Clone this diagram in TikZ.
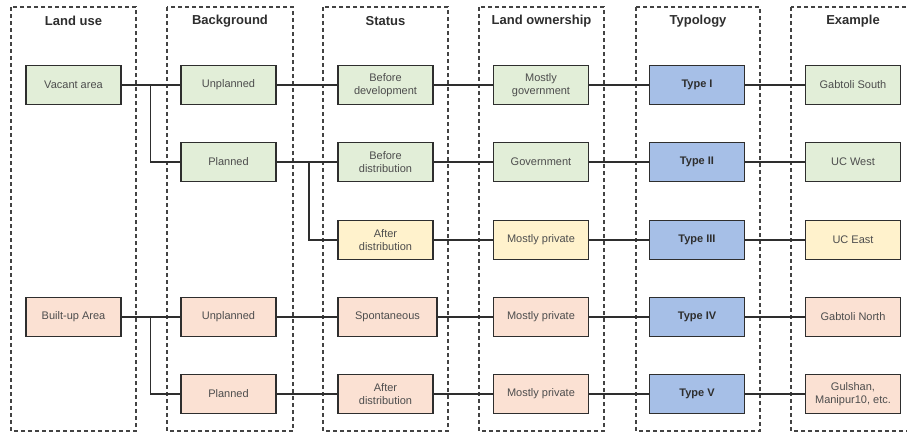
\documentclass[tikz,border=0pt]{standalone}
\usepackage{fontspec}
\setmainfont{Liberation Sans}
\usetikzlibrary{positioning}

\definecolor{grn}{HTML}{E2EED8}
\definecolor{pch}{HTML}{FBE1D3}
\definecolor{ylw}{HTML}{FFF2CC}
\definecolor{blu}{HTML}{A6BFE7}
\definecolor{ink}{HTML}{2E2E2E}

\begin{document}
\begin{tikzpicture}[x=1pt,y=-1pt,
	column/.style={draw=ink!90, dash pattern=on 4pt off 3pt, line width=1.3pt},
	title/.style={font=\fontsize{13}{15}\selectfont\bfseries, text=ink},
	box/.style={draw=ink, line width=1.6pt, minimum width=95pt, minimum height=39pt,
		align=center, font=\fontsize{11}{13}\selectfont, text=ink!85},
	green/.style={box, fill=grn},
	peach/.style={box, fill=pch},
	yellow/.style={box, fill=ylw},
	type/.style={box, fill=blu, text=ink, font=\fontsize{11}{13}\selectfont\bfseries},
	link/.style={draw=ink, line width=1.5pt}]
		\useasboundingbox (0,0) rectangle (907,434);

		% columns
		\draw[column] (11,7) rectangle (136,431);
		\draw[column] (167,7) rectangle (293,431);
		\draw[column] (323,7) rectangle (448,431);
		\draw[column] (479,7) rectangle (604,431);
		\draw[column] (636,7) rectangle (760,431);
		\draw[column] (791,7) rectangle (918,431);

		\draw (73.5,21) node [title] (t1) {Land use};
		\draw (230,21) node [title] (t2) {Background};
		\draw (385.5,21) node [title] (t3) {Status};
		\draw (541.5,21) node [title] (t4) {Land ownership};
		\draw (698,21) node [title] (t5) {Typology};
		\draw (853,21) node [title] (t6) {Example};

		% row 1
		\draw (73.5,85) node [green] (vac) {Vacant area};
		\draw (228.5,85) node [green] (unp1) {Unplanned};
		\draw (385.5,85) node [green] (bdev) {Before\\development};
		\draw (541,85) node [green] (mgov) {Mostly\\government};
		\draw (697,85) node [type] (ty1) {Type I};
		\draw (853,85) node [green] (ex1) {Gabtoli South};

		% row 2
		\draw (228.5,162) node [green] (pla1) {Planned};
		\draw (385.5,162) node [green] (bdis) {Before\\distribution};
		\draw (541,162) node [green] (gov) {Government};
		\draw (697,162) node [type] (ty2) {Type II};
		\draw (853,162) node [green] (ex2) {UC West};

		% row 3
		\draw (385.5,240) node [yellow] (adis1) {After\\distribution};
		\draw (541,240) node [yellow] (mpr1) {Mostly private};
		\draw (697,240) node [type] (ty3) {Type III};
		\draw (853,240) node [yellow] (ex3) {UC East};

		% row 4
		\draw (73.5,317) node [peach] (bua) {Built-up Area};
		\draw (228.5,317) node [peach] (unp2) {Unplanned};
		\draw (387.5,317) node [peach, minimum width=99pt] (spo) {Spontaneous};
		\draw (541,317) node [peach] (mpr2) {Mostly private};
		\draw (697,317) node [type] (ty4) {Type IV};
		\draw (853,317) node [peach] (ex4) {Gabtoli North};

		% row 5
		\draw (228.5,394) node [peach] (pla2) {Planned};
		\draw (385.5,394) node [peach] (adis2) {After\\distribution};
		\draw (541,394) node [peach] (mpr3) {Mostly private};
		\draw (697,394) node [type] (ty5) {Type V};
		\draw (853,394) node [peach] (ex5) {Gulshan,\\Manipur10, etc.};

		% branch points
		\coordinate (br1) at (150.5,85);
		\coordinate (br2) at (309,162);
		\coordinate (br3) at (150.5,317);

		\draw[link]
		(vac) edge (unp1)
		(unp1) edge (bdev)
		(bdev) edge (mgov)
		(mgov) edge (ty1)
		(ty1) edge (ex1)
		(pla1) edge (bdis)
		(bdis) edge (gov)
		(gov) edge (ty2)
		(ty2) edge (ex2)
		(adis1) edge (mpr1)
		(mpr1) edge (ty3)
		(ty3) edge (ex3)
		(bua) edge (unp2)
		(unp2) edge (spo)
		(spo) edge (mpr2)
		(mpr2) edge (ty4)
		(ty4) edge (ex4)
		(pla2) edge (adis2)
		(adis2) edge (mpr3)
		(mpr3) edge (ty5)
		(ty5) edge (ex5);

		\draw[link] (br1) |- (pla1.west);
		\draw[link] (br2) |- (adis1.west);
		\draw[link] (br3) |- (pla2.west);
	\end{tikzpicture}
\end{document}
